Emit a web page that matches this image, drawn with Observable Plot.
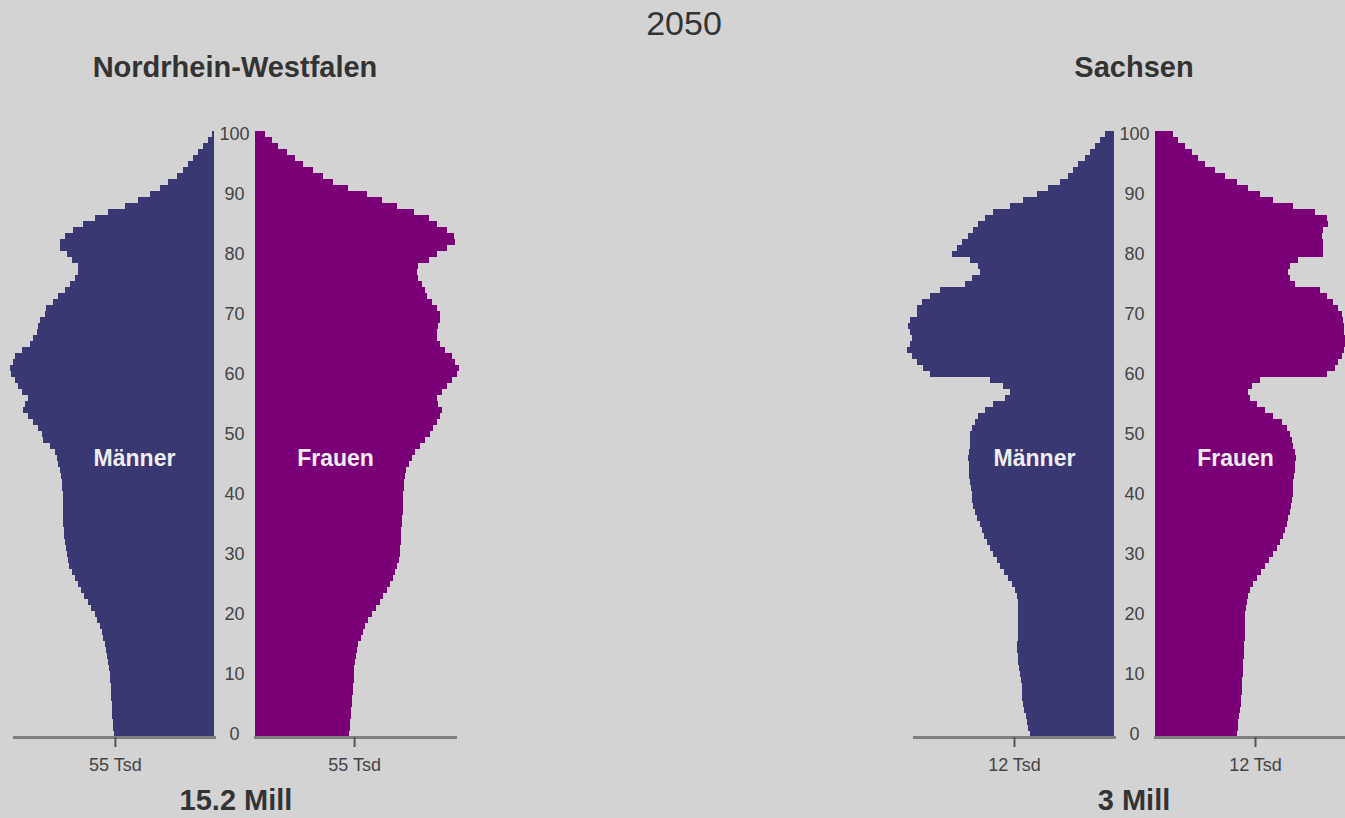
<!DOCTYPE html>
<html><head><meta charset="utf-8">
<script src="https://cdn.jsdelivr.net/npm/d3@7"></script>
<script src="https://cdn.jsdelivr.net/npm/@observablehq/plot@0.6"></script>
<style>
html,body{margin:0;padding:0;background:#d3d3d3;overflow:hidden;}
#stage{position:relative;width:1345px;height:818px;overflow:hidden;font-family:"Liberation Sans",Arial,sans-serif;color:#333;}
.lbl{position:absolute;transform:translateX(-50%);white-space:nowrap;line-height:1;}
.half{position:absolute;top:0;}
</style></head><body><div id="stage"></div>
<script>
const year = "2050";
const panelNames = ["Nordrhein-Westfalen", "Sachsen"];
const panelTotals = ["15.2 Mill", "3 Mill"];
const sexLabels = ["Männer", "Frauen"];
const ages = [0,1,2,3,4,5,6,7,8,9,10,11,12,13,14,15,16,17,18,19,20,21,22,23,24,25,26,27,28,29,30,31,32,33,34,35,36,37,38,39,40,41,42,43,44,45,46,47,48,49,50,51,52,53,54,55,56,57,58,59,60,61,62,63,64,65,66,67,68,69,70,71,72,73,74,75,76,77,78,79,80,81,82,83,84,85,86,87,88,89,90,91,92,93,94,95,96,97,98,99,100];
const ageTicks = [0,10,20,30,40,50,60,70,80,90,100];
const labelAge = 46;

// thousands of persons, ages 0..100
const nrwMen = [55.5,56.0,56.3,56.5,56.7,56.8,57.0,57.2,57.4,57.6,57.8,58.2,58.7,59.3,60.0,60.5,61.5,62.4,63.3,64.7,66.0,68.0,70.0,72.0,73.8,75.4,77.2,79.0,80.2,81.0,81.8,82.3,82.8,83.2,83.5,83.7,83.8,83.9,84.0,84.0,84.0,84.3,84.6,85.0,85.5,86.5,87.4,88.3,91.0,94.8,95.7,97.6,100.4,103.0,106.0,105.0,103.0,106.8,108.7,110.5,112.4,113.3,111.5,110.5,106.8,102.0,100.4,98.5,97.6,96.7,93.9,93.0,89.3,86.5,82.8,80.0,77.0,75.4,75.4,79.0,81.8,85.5,85.5,82.8,78.0,72.6,66.0,58.7,49.4,42.0,35.5,30.0,25.5,20.7,17.4,14.4,11.5,8.7,6.0,3.3,1.3];
const nrwWomen = [52.4,52.7,53.0,53.2,53.5,53.7,54.0,54.2,54.5,54.8,55.0,55.2,55.5,56.0,56.7,57.4,58.6,59.8,61.0,62.9,64.8,67.1,69.4,71.3,73.2,75.0,76.5,77.8,79.0,79.8,80.5,80.7,80.9,81.1,81.3,81.5,81.7,81.9,82.1,82.3,82.4,82.6,82.8,83.3,83.9,85.2,87.0,88.9,91.7,94.4,97.2,99.0,101.0,102.8,103.7,101.8,101.0,103.7,106.5,109.3,112.0,113.0,111.0,109.3,105.6,102.8,101.0,101.0,101.8,102.4,102.8,101.0,98.1,95.4,94.4,92.6,90.7,89.8,90.7,96.3,101.0,106.5,111.0,110.2,106.5,101.0,96.3,88.0,78.7,70.4,62.0,51.8,43.5,38.0,32.4,26.9,22.2,17.6,13.0,9.3,5.6];
const saMen = [10.1,10.3,10.45,10.6,10.75,10.9,11.0,11.05,11.1,11.2,11.3,11.4,11.5,11.55,11.6,11.6,11.55,11.5,11.5,11.5,11.5,11.5,11.5,11.7,11.9,12.3,12.7,13.2,13.7,14.1,14.5,14.9,15.3,15.6,15.9,16.1,16.4,16.7,16.9,17.0,17.1,17.2,17.3,17.35,17.4,17.4,17.5,17.4,17.3,17.3,17.3,17.1,16.7,16.3,15.5,14.5,13.1,12.5,13.3,14.9,22.1,22.9,23.7,24.3,24.9,24.5,24.3,24.5,24.7,24.5,23.7,23.7,23.1,22.1,20.9,17.9,17.1,16.1,16.3,17.3,19.5,18.9,18.3,17.5,16.9,16.3,15.5,14.5,12.5,10.9,9.28,7.88,6.48,5.48,4.88,4.28,3.48,2.88,2.28,1.68,1.08];
const saWomen = [9.8,9.9,10.0,10.1,10.2,10.3,10.35,10.4,10.4,10.45,10.5,10.55,10.6,10.65,10.7,10.7,10.75,10.8,10.8,10.8,10.8,10.9,11.0,11.2,11.4,11.8,12.2,12.7,13.2,13.7,14.2,14.6,15.0,15.3,15.6,15.8,16.0,16.2,16.3,16.4,16.5,16.55,16.6,16.7,16.75,16.8,16.9,16.8,16.6,16.4,16.2,15.8,15.2,14.2,13.2,12.2,11.4,11.2,11.6,12.6,20.6,21.6,22.0,22.4,22.7,23.0,22.9,22.7,22.7,22.6,22.4,22.0,21.4,20.6,19.8,16.8,16.2,16.0,16.2,17.2,20.2,20.2,20.1,20.0,20.2,20.8,20.6,19.2,16.6,14.2,12.6,11.2,9.8,8.4,7.2,6.0,5.2,4.4,3.6,2.8,2.2];

const nrwTicks = [55];
const saTicks = [12];
const nrwMax = 111;
const saMax = 24;

const MEN = "#3a3873", WOMEN = "#7b0078";
const FONT = "Liberation Sans, Arial, sans-serif";
const agesDesc = ages.slice().reverse();

function half({values, men, xmax, ticks, fill, label, withAges, width, marginLeft, marginRight}) {
  const rows = ages.map((a, i) => ({age: a, value: values[i]}));
  const marks = [
    Plot.barX(rows, {y: "age", x: "value", fill, shapeRendering: "crispEdges"}),
    Plot.frame({anchor: "bottom", stroke: "#7f7f7f", strokeWidth: 3}),
    Plot.axisX({ticks, tickFormat: d => `${d} Tsd`, tickSize: 10, tickPadding: 11, fontSize: 18, stroke: "#555", strokeWidth: 2, fill: "#444", label: null}),
    Plot.text([label], {y: () => labelAge, text: d => d, frameAnchor: men ? "right" : "left", dx: men ? -80 : 80, fill: "#eeeeee", fontSize: 23, fontWeight: "bold", textAnchor: "middle"})
  ];
  if (withAges) {
    marks.push(Plot.text(ageTicks, {y: d => d, text: d => String(d), frameAnchor: "left", dx: -21, fontSize: 18, fill: "#444", textAnchor: "middle"}));
  }
  return Plot.plot({
    width, height: 818, marginTop: 131, marginBottom: 81, marginLeft, marginRight,
    x: {domain: [0, xmax], reverse: men, label: null},
    y: {type: "band", domain: agesDesc, padding: 0, axis: null},
    style: {background: "transparent", color: "#444", fontFamily: FONT, overflow: "visible", maxWidth: "none"},
    marks
  });
}

const stage = document.getElementById("stage");
function place(el, left) { el.classList.add("half"); el.style.left = left + "px"; stage.appendChild(el); }
function text(t, cx, top, size, weight, lh) {
  const d = document.createElement("div");
  d.className = "lbl"; d.textContent = t;
  d.style.left = cx + "px"; d.style.top = top + "px";
  d.style.fontSize = size + "px"; d.style.fontWeight = weight;
  if (lh) d.style.lineHeight = lh;
  stage.appendChild(d);
}

place(half({values: nrwMen, men: true, xmax: nrwMax, ticks: nrwTicks, fill: MEN, label: sexLabels[0], withAges: false, width: 214, marginLeft: 14, marginRight: 0}), 0);
place(half({values: nrwWomen, men: false, xmax: nrwMax, ticks: nrwTicks, fill: WOMEN, label: sexLabels[1], withAges: true, width: 256, marginLeft: 41, marginRight: 15}), 214);
place(half({values: saMen, men: true, xmax: saMax, ticks: saTicks, fill: MEN, label: sexLabels[0], withAges: false, width: 224, marginLeft: 24, marginRight: 0}), 890);
place(half({values: saWomen, men: false, xmax: saMax, ticks: saTicks, fill: WOMEN, label: sexLabels[1], withAges: true, width: 256, marginLeft: 41, marginRight: 15}), 1114);

text(year, 684, 6, 34, "normal");
text(panelNames[0], 235, 53, 29, "bold");
text(panelNames[1], 1134, 53, 29, "bold");
text(panelTotals[0], 236, 789, 29, "bold", "0.82");
text(panelTotals[1], 1134, 789, 29, "bold", "0.82");
</script></body></html>
